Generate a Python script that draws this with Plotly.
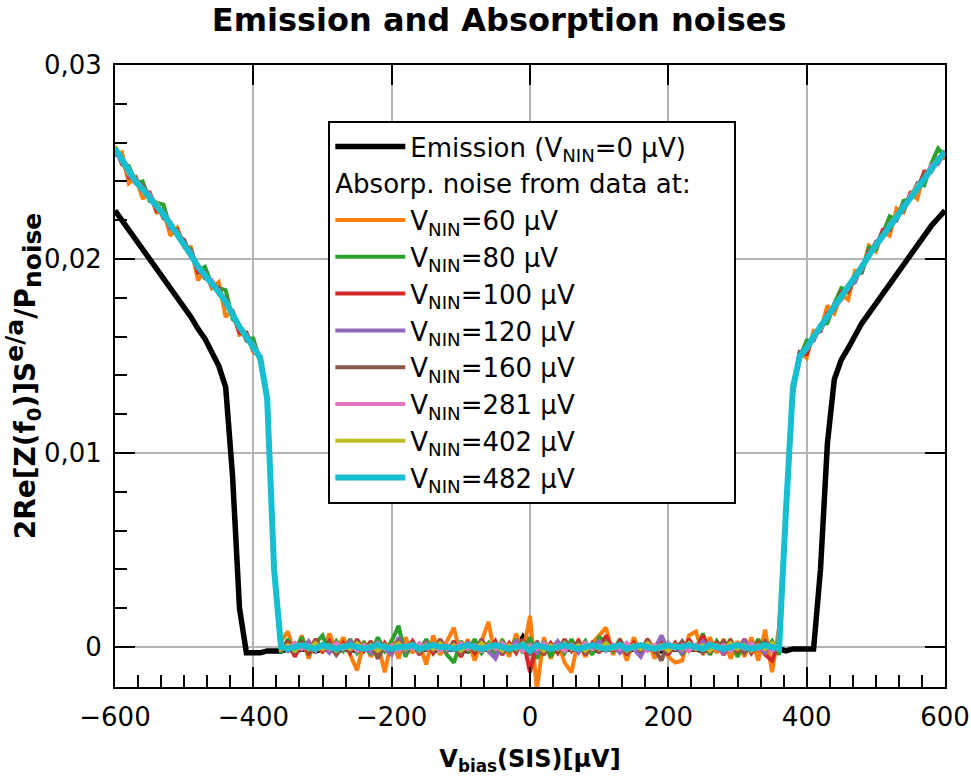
import plotly.graph_objects as go

# Bias voltage grid (µV)
V_BIAS = list(range(-600, 601, 10))

# Values, in units of 1e-4
EMISSION = ([225,220,216,211,206,201,196,191,186,181,176,170,164,159,152,145,134,88,20,-3,-3,-3,-2,-2]
    + [-2,-1,-2,-1,-1,-2,-1,-1,-2,-1,-1,-2, -1,-1,-2,-1,-1,-1,-2,-1,-1,-1,-2,-1,
       -1,-1,-1,-2,-1,-1,-1,-1,-1,-1,-1,5, 0,-1,-1,-1,-2,-1,-1,-1,-1,-2,-1,-1,
       -1,-1,-2,-1,-1,-1,-1,-2,-1,-1,-1,-1, -1,-2,-1,-1,-1,-1,-2,-1,-1,-1,-2,-1,-1]
    + [-2,-1,-1,-1,-1,40,105,138,148,154,161,167,172,177,182,187,192,197,203,208,213,217,221,225])

ABS_60 = ([254,255,239,242,231,235,224,225,212,216,206,206,189,194,185,188,170,174,161,162,152,150,126,43]
    + [3,8,-4,6,-6,4,-3,7,-2,5,-4,-12, 3,-5,2,-13,4,-6,5,-3,2,-9,6,-4,
       3,10,-5,4,-7,3,13,-6,4,-5,7,-3, 16,-22,5,-6,3,-8,-13,4,-5,2,6,10,
       -4,3,-7,5,-3,4,-6,2,-5,-8,-7,6, 8,-4,5,-3,4,-6,3,-5,5,-7,9,-13,10]
    + [73,129,152,149,163,163,176,172,182,179,194,194,207,204,214,212,226,224,234,231,245,245,252,252])

ABS_80 = ([258,249,248,239,240,230,229,228,216,215,207,205,194,196,187,185,184,169,166,159,159,147,129,38]
    + [-3,4,-2,5,-4,2,6,-3,3,-2,4,-3, 2,-4,5,-2,3,11,-5,3,-2,4,-3,2,
       -4,-8,3,-2,4,-3,2,-4,3,-2,4,-3, 5,-6,3,-5,2,-3,4,-2,3,-4,5,3,
       -2,4,-3,2,-4,3,-2,4,-3,2,-4,3, -2,7,-4,3,-2,4,-5,2,-3,4,-2,3,-4]
    + [68,136,149,158,158,166,167,177,185,184,192,193,206,205,213,222,220,230,231,239,238,249,257,253])

ABS_100 = ([255,252,242,242,235,234,225,224,216,215,207,204,193,193,186,185,177,172,162,162,154,150,127,41]
    + [-2,3,-5,2,-3,4,-2,3,-4,2,-3,4, -2,3,-5,2,-3,4,-2,3,-4,2,-3,4,
       -2,3,-5,2,-3,4,-2,3,-4,2,-3,4, -13,3,-4,2,-3,4,-2,3,-4,2,-3,6,
       -2,3,-4,2,-3,4,-2,3,-4,2,-3,4, -2,6,-3,2,-4,3,-2,4,-3,2,-4,-7,3]
    + [72,132,152,151,161,163,172,174,183,183,191,194,204,206,215,215,223,225,234,236,245,245,252,254])

ABS_120 = ([254,252,243,241,235,234,227,224,216,214,207,204,195,193,186,184,177,173,164,161,153,150,127,41]
    + [1,-2,2,-1,3,-2,1,-3,2,-1,3,-2, 1,-3,2,-1,-4,5,-2,1,-3,2,-1,3,
       -2,1,-3,2,-1,3,-2,-6,2,-1,3,-2, 1,-3,2,-1,3,-2,1,-3,2,-1,3,-2,
       1,-3,2,-1,-5,2,-1,6,-2,1,-3,2, -1,3,-2,1,-3,2,-1,3,-2,1,-3,2,-1]
    + [69,135,149,155,158,166,169,177,179,186,188,197,201,209,211,218,220,228,231,239,241,248,249,256])

ABS_160 = ([258,249,246,239,238,231,229,221,219,212,210,201,197,190,189,182,180,170,166,158,156,148,129,39]
    + [-1,2,-3,1,-2,3,-1,2,-4,1,-2,3, -1,2,-6,1,-2,3,-1,2,-3,1,-2,3,
       -1,2,-3,1,-2,3,-1,2,-3,1,-2,3, -4,2,-3,1,-2,3,-1,2,-3,1,-2,3,
       -1,2,-3,1,-2,3,-1,-7,2,-1,3,-2, 1,-3,2,-1,3,-2,1,-3,2,-1,3,-2,1]
    + [71,132,152,153,161,163,171,174,182,184,191,194,203,206,214,216,223,225,233,236,244,246,252,253])

ABS_281 = ([257,250,246,240,235,233,228,222,219,213,207,203,196,191,189,183,177,172,165,159,156,149,127,41]
    + [1,-1,2,-1,1,-2,1,-1,2,-1,1,-2, 1,-1,2,-1,1,-2,1,-1,2,-1,1,-2,
       1,-1,2,-1,1,-2,1,-1,2,-1,1,-2, 1,-1,2,-1,1,-2,1,-1,2,-1,1,-2,
       1,-1,2,-1,1,-2,1,-1,2,-1,1,-2, 1,-1,2,-1,1,-2,1,-1,2,-1,1,-2,1]
    + [71,133,149,155,160,164,171,175,179,186,190,195,203,207,211,218,222,226,233,237,241,248,251,254])

ABS_402 = ([258,251,244,241,236,231,229,223,217,214,208,201,197,192,187,184,178,170,166,160,154,150,128,39]
    + [-1,1,-2,1,-1,2,-1,1,-2,1,-1,2, -1,1,-2,1,-1,2,-1,1,-2,1,-1,2,
       -1,1,-2,1,-1,2,-1,1,-2,1,-1,2, -1,1,-2,1,-1,2,-1,1,-2,1,-1,2,
       -1,1,-2,1,-1,2,-1,1,-2,1,-1,2, -1,1,-2,1,-1,2,-1,1,-2,1,-1,2,-1]
    + [70,134,149,154,161,164,170,176,179,185,191,195,202,208,211,217,223,226,232,238,241,247,252,254])

ABS_482 = ([257,251,245,240,236,232,228,223,218,213,208,202,196,192,188,183,178,171,165,160,155,149,128,40]
    + [0,-1,0,1,0,-1,1,0,-1,0,1,0, -1,0,1,0,-1,0,0,1,-1,0,1,0,
       0,-1,0,1,0,-1,0,1,0,-1,0,1, -2,1,0,-1,0,1,0,-1,0,1,0,-1,
       0,1,-1,0,1,0,-1,0,1,0,0,1, 0,-1,1,0,-1,0,1,0,-1,0,1,0,-1]
    + [70,133,150,154,160,165,170,175,180,185,190,196,202,207,212,217,222,227,232,237,242,247,251,255])

ABS_LABELS = ["60", "80", "100", "120", "160", "281", "402", "482"]
ABS_SERIES = [ABS_60, ABS_80, ABS_100, ABS_120, ABS_160, ABS_281, ABS_402, ABS_482]
ABS_COLORS = ["#ff7f0e", "#2ca02c", "#d62728", "#9467bd", "#8c564b", "#e377c2", "#bcbd22", "#17becf"]

X_TICKS = [-600, -400, -200, 0, 200, 400, 600]
Y_TICKS = [0, 0.01, 0.02, 0.03]
Y_MINOR = [0.002, 0.004, 0.006, 0.008, 0.012, 0.014, 0.016, 0.018, 0.022, 0.024, 0.026, 0.028]

SCALE = 1e-4
for s in [EMISSION] + ABS_SERIES:
    if len(s) != len(V_BIAS):
        raise ValueError(f"length mismatch {len(s)}")

FONT = "DejaVu Sans"
LEG_SIZE = 26
fig = go.Figure()

fig.add_trace(go.Scatter(
    x=V_BIAS, y=[v * SCALE for v in EMISSION], mode="lines",
    line=dict(color="black", width=5.5),
    name="Emission (V<sub>NIN</sub>=0 µV)", legendgroup="em"))

# trailing no-break spaces give the legend box the reference's width
GROUP_TITLE = "Absorp. noise from data at:" + "&nbsp;" * 4

for lab, s, c in zip(ABS_LABELS, ABS_SERIES, ABS_COLORS):
    fig.add_trace(go.Scatter(
        x=V_BIAS, y=[v * SCALE for v in s], mode="lines",
        line=dict(color=c, width=6 if lab == "482" else 4),
        name=f"V<sub>NIN</sub>={lab} µV", legendgroup="abs",
        legendgrouptitle=dict(text=GROUP_TITLE,
                              font=dict(size=LEG_SIZE, family=FONT, color="black"))))

# invisible trace to carry the mirrored top/right axes
fig.add_trace(go.Scatter(x=[X_TICKS[0]], y=[Y_TICKS[0]], xaxis="x2", yaxis="y2",
                         mode="markers", marker=dict(opacity=0), showlegend=False, hoverinfo="skip"))

XR = [-600, 600]
YR = [-0.00206, 0.03]

YTITLE = ("<b>2Re[Z(f<sub>0</sub>)]S<sup><span style='font-size:25px'>e/a</span></sup>"
          "/P<sub><span style='font-size:25px'>noise</span></sub></b>")

fig.update_layout(
    width=971, height=778,
    margin=dict(l=115, r=26, t=65, b=91, autoexpand=False),
    paper_bgcolor="white", plot_bgcolor="white",
    separators=", ",
    font=dict(family=FONT, color="black", size=26),
    title=dict(text="<b>Emission and Absorption noises</b>", x=0.514, xref="container",
               y=0.975, yanchor="middle", xanchor="center", font=dict(size=32, family=FONT)),
    showlegend=True,
    legend=dict(x=0.257, y=0.91, xanchor="left", yanchor="top", bgcolor="white",
                bordercolor="black", borderwidth=2, font=dict(size=LEG_SIZE, family=FONT),
                tracegroupgap=0, traceorder="grouped", itemwidth=70),
    xaxis=dict(range=XR, tickvals=X_TICKS, ticks="inside", ticklen=20, tickwidth=2, tickcolor="black",
               showline=True, linecolor="black", linewidth=2, mirror=False, automargin=False,
               ticklabeloverflow="allow",
               showgrid=True, gridcolor="#b4b4b4", gridwidth=2, zeroline=False,
               tickfont=dict(size=26), ticklabelstandoff=6,
               minor=dict(dtick=200/6, ticks="inside", ticklen=12, tickwidth=2, tickcolor="black", showgrid=False),
               title=dict(text="<b>V<sub>bias</sub>(SIS)[µV]</b>", font=dict(size=24), standoff=19)),
    yaxis=dict(range=YR, tickvals=Y_TICKS, ticks="inside", ticklen=20, tickwidth=2, tickcolor="black",
               showline=True, linecolor="black", linewidth=2, mirror=False, automargin=False,
               showgrid=True, gridcolor="#b4b4b4", gridwidth=2, zeroline=False,
               tickfont=dict(size=26), ticklabelstandoff=6,
               minor=dict(tickvals=Y_MINOR, ticks="inside", ticklen=12, tickwidth=2, tickcolor="black", showgrid=False),
               title=dict(text=YTITLE, font=dict(size=28), standoff=5)),
    xaxis2=dict(range=XR, overlaying="x", side="top", tickvals=X_TICKS, ticks="inside", ticklen=20,
                tickwidth=2, tickcolor="black", showticklabels=False, showgrid=False, zeroline=False,
                showline=True, linecolor="black", linewidth=2, automargin=False),
    yaxis2=dict(range=YR, overlaying="y", side="right", tickvals=Y_TICKS, ticks="inside", ticklen=20,
                tickwidth=2, tickcolor="black", showticklabels=False, showgrid=False, zeroline=False,
                showline=True, linecolor="black", linewidth=2, automargin=False),
)

fig.write_html("out.html")
